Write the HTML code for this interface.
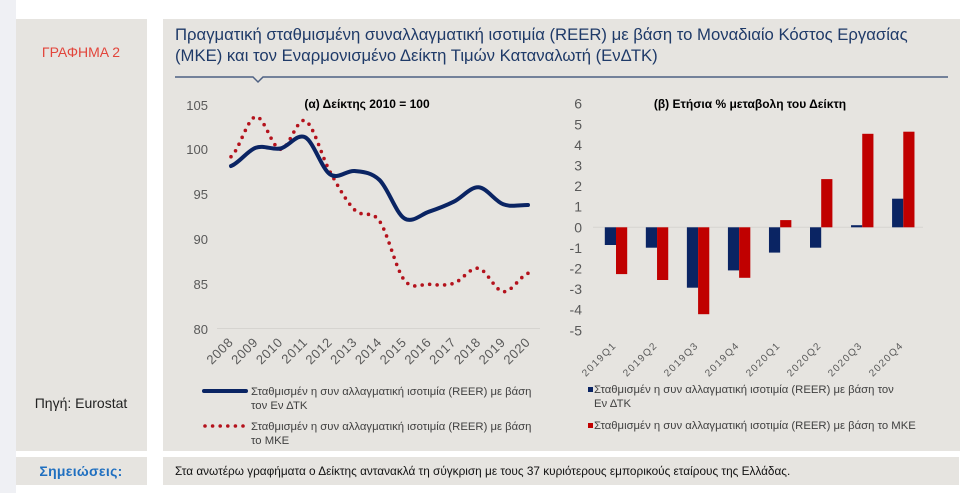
<!DOCTYPE html>
<html>
<head>
<meta charset="utf-8">
<style>
  html,body{margin:0;padding:0;background:#fff;}
  body{width:975px;height:493px;overflow:hidden;position:relative;font-family:"Liberation Sans","Noto Sans CJK SC",sans-serif;}
  svg{position:absolute;left:0;top:0;}
  text{font-family:"Liberation Sans","DejaVu Sans",sans-serif;}
</style>
</head>
<body>
<svg width="975" height="493" viewBox="0 0 975 493" xmlns="http://www.w3.org/2000/svg">
  <!-- backgrounds -->
  <rect x="0" y="0" width="975" height="493" fill="#ffffff"/>
  <rect x="0" y="0" width="16" height="493" fill="#eff0f4"/>
  <rect x="16" y="19" width="131" height="432" fill="#e6e4e0"/>
  <rect x="163" y="19" width="797" height="432" fill="#e6e4e0"/>
  <rect x="16" y="457" width="131" height="28" fill="#e6e4e0"/>
  <rect x="163" y="457" width="796" height="28" fill="#e6e4e0"/>

  <!-- left column -->
  <text x="81" y="57" font-size="14" fill="#e2453b" text-anchor="middle">ΓΡΑΦΗΜΑ 2</text>
  <text x="81" y="408" font-size="14" fill="#222222" text-anchor="middle">Πηγή: Eurostat</text>
  <text x="81" y="476" font-size="14" font-weight="bold" fill="#1f6fc0" text-anchor="middle" letter-spacing="0.3">Σημειώσεις:</text>

  <!-- title -->
  <text x="175" y="40" font-size="16.7" fill="#1f3a68">Πραγματική σταθμισμένη συναλλαγματική ισοτιμία (REER) με βάση το Μοναδιαίο Κόστος Εργασίας</text>
  <text x="175" y="61" font-size="16.7" fill="#1f3a68">(ΜΚΕ) και τον Εναρμονισμένο Δείκτη Τιμών Καταναλωτή (ΕνΔΤΚ)</text>
  <polyline points="175,77 253,77 258,82 263,77 948,77" fill="none" stroke="#4d6082" stroke-width="1.5"/>

  <!-- notes -->
  <text x="175" y="475" font-size="11.8" fill="#111111">Στα ανωτέρω γραφήματα ο Δείκτης αντανακλά τη σύγκριση με τους 37 κυριότερους εμπορικούς εταίρους της Ελλάδας.</text>

  <!-- ===== Line chart ===== -->
  <text x="367" y="108" font-size="12" font-weight="bold" fill="#000" text-anchor="middle">(α) Δείκτης 2010 = 100</text>
  <g font-size="13" fill="#595959" text-anchor="end">
    <text x="208" y="110">105</text>
    <text x="208" y="154">100</text>
    <text x="208" y="199">95</text>
    <text x="208" y="244">90</text>
    <text x="208" y="289">85</text>
    <text x="208" y="334">80</text>
  </g>
  <line x1="217" y1="328.5" x2="540" y2="328.5" stroke="#d6d4d0" stroke-width="1"/>

  <path d="M231,156.7 C239.25,150.03 247.5,117.93 255.75,116.7 C264,115.47 272.25,148.63 280.5,149.3 C288.75,149.97 297,116.97 305.25,120.7 C313.5,124.43 321.75,156.82 330,171.7 C338.25,186.58 346.5,201.78 354.75,210 C363,218.22 371.25,209.33 379.5,221 C387.75,232.67 396,269.45 404.25,280 C412.5,290.55 420.75,283.75 429,284.3 C437.25,284.85 445.5,285.97 453.75,283.3 C462,280.63 470.25,266.9 478.5,268.3 C486.75,269.7 495,290.87 503.25,291.7 C511.5,292.53 519.75,276.37 528,273.3"
        fill="none" stroke="#b4121c" stroke-width="3.6" stroke-linecap="round" stroke-dasharray="0 7.5"/>
  <path d="M231,166 C239.25,162.95 247.5,150.62 255.75,147.7 C264,144.78 272.25,150.23 280.5,148.5 C288.75,146.77 297,133 305.25,137.3 C313.5,141.6 321.75,168.68 330,174.3 C338.25,179.92 346.5,170.05 354.75,171 C363,171.95 371.25,172.12 379.5,180 C387.75,187.88 396,213.02 404.25,218.3 C412.5,223.58 420.75,214.47 429,211.7 C437.25,208.93 445.5,205.77 453.75,201.7 C462,197.63 470.25,186.87 478.5,187.3 C486.75,187.73 495,201.35 503.25,204.3 C511.5,207.25 519.75,204.88 528,205"
        fill="none" stroke="#0a2463" stroke-width="4" stroke-linecap="round" stroke-linejoin="round"/>

  <g font-size="13" fill="#595959" text-anchor="end" letter-spacing="0.6">
    <text transform="translate(234,343) rotate(-45)">2008</text>
    <text transform="translate(258.75,343) rotate(-45)">2009</text>
    <text transform="translate(283.5,343) rotate(-45)">2010</text>
    <text transform="translate(308.25,343) rotate(-45)">2011</text>
    <text transform="translate(333,343) rotate(-45)">2012</text>
    <text transform="translate(357.75,343) rotate(-45)">2013</text>
    <text transform="translate(382.5,343) rotate(-45)">2014</text>
    <text transform="translate(407.25,343) rotate(-45)">2015</text>
    <text transform="translate(432,343) rotate(-45)">2016</text>
    <text transform="translate(456.75,343) rotate(-45)">2017</text>
    <text transform="translate(481.5,343) rotate(-45)">2018</text>
    <text transform="translate(506.25,343) rotate(-45)">2019</text>
    <text transform="translate(531,343) rotate(-45)">2020</text>
  </g>

  <!-- legend left -->
  <line x1="204" y1="391" x2="246" y2="391" stroke="#0a2463" stroke-width="4" stroke-linecap="round"/>
  <g font-size="11.3" fill="#404040" style="white-space:pre">
    <text x="251" y="395">Σταθμισμέν η συν αλλαγματική  ισοτιμία (REER) με βάση</text>
    <text x="251" y="409">τον  Εν ΔΤΚ</text>
    <text x="251" y="430">Σταθμισμέν η συν αλλαγματική  ισοτιμία (REER) με βάση</text>
    <text x="251" y="444">το ΜΚΕ</text>
  </g>
  <line x1="205" y1="426" x2="245" y2="426" stroke="#b4121c" stroke-width="3.6" stroke-linecap="round" stroke-dasharray="0 7.6"/>

  <!-- ===== Bar chart ===== -->
  <text x="750" y="108" font-size="12" font-weight="bold" fill="#000" text-anchor="middle">(β) Ετήσια % μεταβολη του Δείκτη</text>
  <g font-size="14" fill="#595959" text-anchor="end">
    <text x="582" y="108.7">6</text>
    <text x="582" y="129.3">5</text>
    <text x="582" y="149.9">4</text>
    <text x="582" y="170.5">3</text>
    <text x="582" y="191.1">2</text>
    <text x="582" y="211.7">1</text>
    <text x="582" y="232.3">0</text>
    <text x="582" y="252.9">-1</text>
    <text x="582" y="273.5">-2</text>
    <text x="582" y="294.1">-3</text>
    <text x="582" y="314.7">-4</text>
    <text x="582" y="335.3">-5</text>
  </g>
  <line x1="593" y1="227.3" x2="923" y2="227.3" stroke="#d6d4d0" stroke-width="1"/>

  <g fill="#0a2463">
    <rect x="604.8" y="227.3" width="11.2" height="17.7"/>
    <rect x="645.84" y="227.3" width="11.2" height="20.4"/>
    <rect x="686.88" y="227.3" width="11.2" height="60.4"/>
    <rect x="727.92" y="227.3" width="11.2" height="43.1"/>
    <rect x="768.96" y="227.3" width="11.2" height="25.3"/>
    <rect x="810" y="227.3" width="11.2" height="20.4"/>
    <rect x="851.04" y="225.2" width="11.2" height="2.1"/>
    <rect x="892.08" y="198.7" width="11.2" height="28.6"/>
  </g>
  <g fill="#c00000">
    <rect x="616" y="227.3" width="11.2" height="46.8"/>
    <rect x="657.04" y="227.3" width="11.2" height="52.7"/>
    <rect x="698.08" y="227.3" width="11.2" height="86.9"/>
    <rect x="739.12" y="227.3" width="11.2" height="50.5"/>
    <rect x="780.16" y="220.1" width="11.2" height="7.2"/>
    <rect x="821.2" y="179.1" width="11.2" height="48.2"/>
    <rect x="862.24" y="133.8" width="11.2" height="93.5"/>
    <rect x="903.28" y="131.7" width="11.2" height="95.6"/>
  </g>

  <g font-size="10" fill="#595959" text-anchor="end" letter-spacing="1.4">
    <text transform="translate(617,346) rotate(-45)">2019Q1</text>
    <text transform="translate(658,346) rotate(-45)">2019Q2</text>
    <text transform="translate(699,346) rotate(-45)">2019Q3</text>
    <text transform="translate(740,346) rotate(-45)">2019Q4</text>
    <text transform="translate(781,346) rotate(-45)">2020Q1</text>
    <text transform="translate(822,346) rotate(-45)">2020Q2</text>
    <text transform="translate(863,346) rotate(-45)">2020Q3</text>
    <text transform="translate(904,346) rotate(-45)">2020Q4</text>
  </g>

  <!-- legend right -->
  <rect x="588" y="387" width="5" height="5" fill="#0a2463"/>
  <rect x="588" y="423" width="5" height="5" fill="#c00000"/>
  <g font-size="11.3" fill="#404040" style="white-space:pre">
    <text x="594" y="393">Σταθμισμέν η συν αλλαγματική  ισοτιμία (REER) με βάση τον</text>
    <text x="594" y="407">Εν ΔΤΚ</text>
    <text x="594" y="429">Σταθμισμέν η συν αλλαγματική  ισοτιμία (REER) με βάση το ΜΚΕ</text>
  </g>
</svg>
</body>
</html>
